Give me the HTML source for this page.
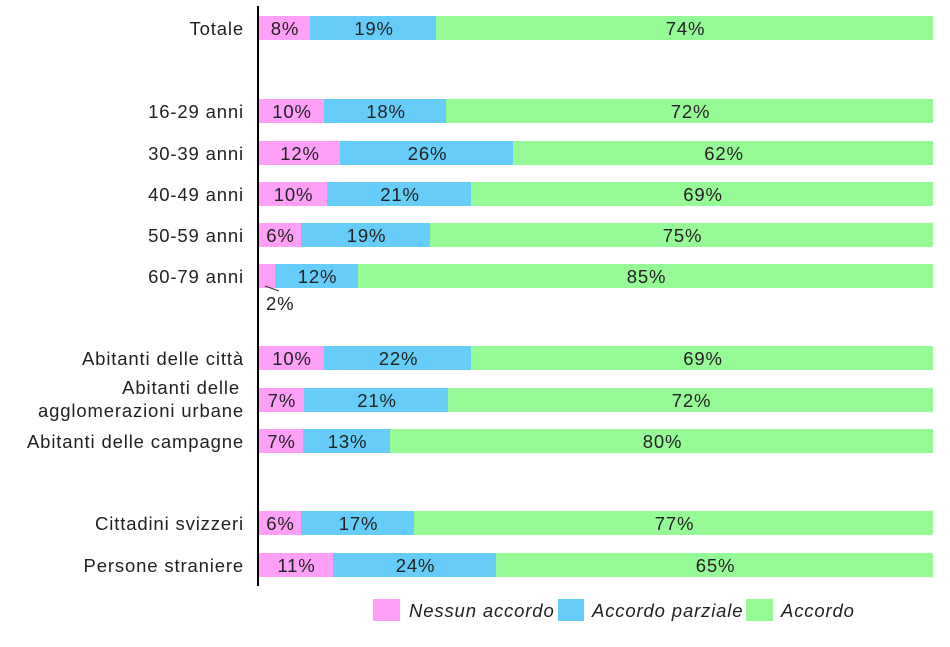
<!DOCTYPE html>
<html><head><meta charset="utf-8"><style>
body{margin:0;background:#fff;}
svg text{font-family:"Liberation Sans",sans-serif;font-size:18.5px;letter-spacing:0.85px;fill:#222;}
</style></head><body>
<svg width="950" height="642" xmlns="http://www.w3.org/2000/svg">
<g id="bars"></g>
<line x1="258" y1="6" x2="258" y2="586" stroke="#000" stroke-width="2"/>
<g text-anchor="end">
<text x="244" y="35">Totale</text>
<text x="244" y="118">16-29 anni</text>
<text x="244" y="160">30-39 anni</text>
<text x="244" y="201">40-49 anni</text>
<text x="244" y="242">50-59 anni</text>
<text x="244" y="283">60-79 anni</text>
<text x="244" y="365">Abitanti delle città</text>
<text x="240" y="394">Abitanti delle</text>
<text x="244" y="417">agglomerazioni urbane</text>
<text x="244" y="448">Abitanti delle campagne</text>
<text x="244" y="530">Cittadini svizzeri</text>
<text x="244" y="572">Persone straniere</text>
</g>
<line x1="265" y1="286" x2="279" y2="291" stroke="#333" stroke-width="1"/>
<text x="266" y="310">2%</text>
<rect x="373" y="599" width="27" height="22" fill="#ffa0f7"/>
<rect x="558" y="599" width="26" height="22" fill="#66cdf8"/>
<rect x="746" y="599" width="27" height="22" fill="#96fa96"/>
<text x="409" y="617" style="font-style:italic">Nessun accordo</text>
<text x="592" y="617" style="font-style:italic">Accordo parziale</text>
<text x="781" y="617" style="font-style:italic">Accordo</text>
<script>
var rows=[[28,310,436,"8%","19%","74%"],[111,324,446,"10%","18%","72%"],[153,340,513,"12%","26%","62%"],[194,327,471,"10%","21%","69%"],[235,301,430,"6%","19%","75%"],[276,275,358,"","12%","85%"],[358,324,471,"10%","22%","69%"],[400,304,448,"7%","21%","72%"],[441,303,390,"7%","13%","80%"],[523,301,414,"6%","17%","77%"],[565,333,496,"11%","24%","65%"]];
var ns="http://www.w3.org/2000/svg",g=document.getElementById("bars");
function R(x,y,w,h,c){var r=document.createElementNS(ns,"rect");r.setAttribute("x",x);r.setAttribute("y",y);r.setAttribute("width",w);r.setAttribute("height",h);r.setAttribute("fill",c);g.appendChild(r);}
function T(x,y,s){var t=document.createElementNS(ns,"text");t.setAttribute("x",x);t.setAttribute("y",y);t.setAttribute("text-anchor","middle");t.textContent=s;g.appendChild(t);}
rows.forEach(function(r){var y=r[0]-12;R(258,y,r[1]-258,24,"#ffa0f7");R(r[1],y,r[2]-r[1],24,"#66cdf8");R(r[2],y,933-r[2],24,"#96fa96");
if(r[3])T((258+r[1])/2+1,r[0]+7,r[3]);T((r[1]+r[2])/2+1,r[0]+7,r[4]);T((r[2]+933)/2+1,r[0]+7,r[5]);});
</script>
</svg>
</body></html>
